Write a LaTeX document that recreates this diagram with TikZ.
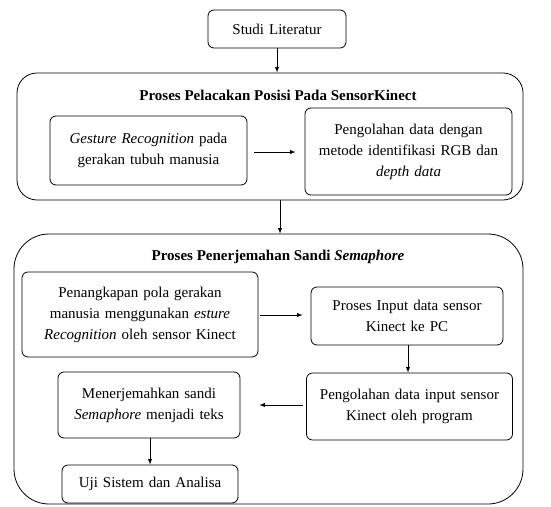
\documentclass[tikz,border=0pt]{standalone}
\usepackage{fontspec}
\setmainfont{Liberation Serif}
\begin{document}
\begin{tikzpicture}[x=1pt,y=-1pt,
        kotak/.style={draw, black, line width=0.8pt, rounded corners=6pt, inner sep=0pt, align=center, font=\fontsize{15}{21}\selectfont},
        bingkai/.style={draw, black, line width=0.8pt, inner sep=0pt},
        judul/.style={font=\fontsize{15}{21}\selectfont\bfseries},
        panah/.style={-latex, black, line width=0.9pt}]
        \useasboundingbox (0,0) rectangle (551,506);
        \node[bingkai, rounded corners=20pt, minimum width=506pt, minimum height=127pt] (luar1) at (270,136.5) {};
        \node[bingkai, rounded corners=35pt, minimum width=509pt, minimum height=270pt] (luar2) at (268.5,369) {};
        \node[kotak, text width=138pt, minimum height=38pt] (studi) at (277,29) {Studi Literatur};
        \node[judul] (judul1) at (278,95) {Proses Pelacakan Posisi Pada SensorKinect};
        \node[kotak, text width=197pt, minimum height=69pt] (gesture) at (148.5,150.5) {\textit{Gesture Recognition} pada\\gerakan tubuh manusia};
        \node[kotak, text width=207pt, minimum height=87pt] (olahrgb) at (408.5,151.5) {Pengolahan data dengan\\metode identifikasi RGB dan\\\textit{depth data}};
        \node[judul] (judul2) at (278,257) {Proses Penerjemahan Sandi \textit{Semaphore}};
        \node[kotak, text width=236pt, minimum height=85pt] (tangkap) at (140,314.5) {Penangkapan pola gerakan\\manusia menggunakan \textit{esture}\\\textit{Recognition} oleh sensor Kinect};
        \node[kotak, text width=192pt, minimum height=58pt] (input) at (407,316) {Proses Input data sensor\\Kinect ke PC};
        \node[kotak, text width=206pt, minimum height=67pt] (olahinput) at (409.5,406.5) {Pengolahan data input sensor\\Kinect oleh program};
        \node[kotak, text width=182pt, minimum height=66pt] (terjemah) at (149,405) {Menerjemahkan sandi\\\textit{Semaphore} menjadi teks};
        \node[kotak, text width=176pt, minimum height=38pt] (uji) at (150,484) {Uji Sistem dan Analisa};
        % alur
        \draw[panah] (studi.south) -- (studi.south |- luar1.north);
        \draw[panah] (luar1.south -| 280,0) -- (luar2.north -| 280,0);
        \draw[panah, shorten <=7pt, shorten >=9pt] (gesture.east |- 0,152) -- (olahrgb.west |- 0,152);
        \draw[panah, shorten <=2pt, shorten >=8pt] (tangkap.east |- 0,315) -- (input.west |- 0,315);
        \draw[panah] (input.south -| 408,0) -- (olahinput.north -| 408,0);
        \draw[panah, shorten <=3pt, shorten >=19pt] (olahinput.west |- 0,405) -- (terjemah.east |- 0,405);
        \draw[panah] (terjemah.south -| 150,0) -- (uji.north -| 150,0);
    \end{tikzpicture}
\end{document}
